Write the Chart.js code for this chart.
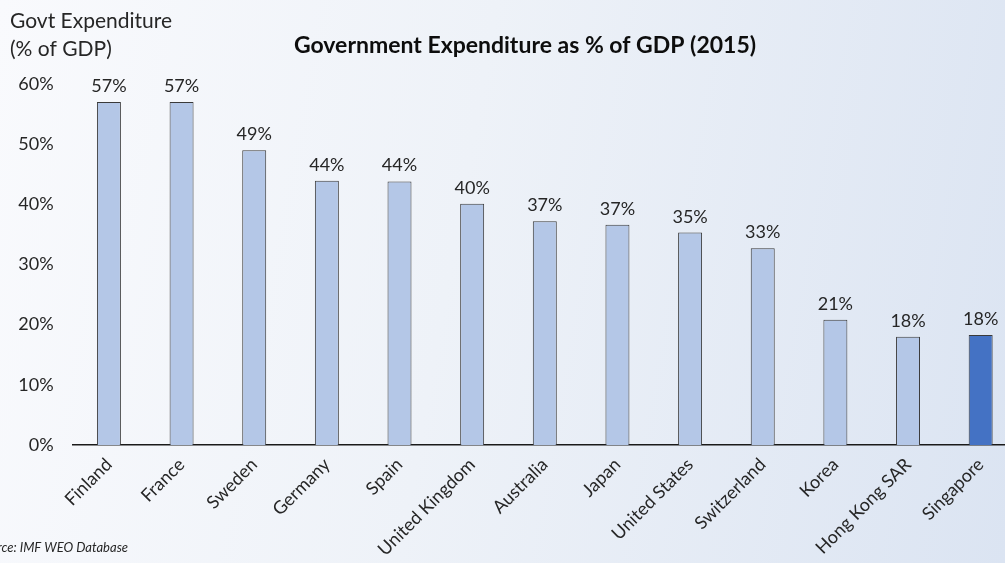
<!DOCTYPE html>
<html>
<head>
<meta charset="utf-8">
<script src="https://cdn.jsdelivr.net/npm/chart.js@4"></script>
<style>
html,body{margin:0;padding:0;width:1005px;height:563px;overflow:hidden;}
body{background:linear-gradient(100deg,#f9fafd 0%,#eef2f8 45%,#dbe4f2 100%);}
#wrap{position:absolute;left:0;top:0;width:1020px;height:563px;}
</style>
</head>
<body>
<div id="wrap"><canvas id="c" width="1020" height="563"></canvas></div>
<script>
const categories = ["Finland","France","Sweden","Germany","Spain","United Kingdom","Australia","Japan","United States","Switzerland","Korea","Hong Kong SAR","Singapore"];
const expenditure = [57.0, 57.0, 49.0, 43.9, 43.8, 40.1, 37.2, 36.6, 35.3, 32.7, 20.8, 18.0, 18.3];
const yTicks = [0,10,20,30,40,50,60];
const chartTitle = "Government Expenditure as % of GDP (2015)";
const axisTitle = ["Govt Expenditure","(% of GDP)"];
const sourceText = "Source: IMF WEO Database";

const FONT = "Lato, 'Open Sans', sans-serif";
const barColors = categories.map(c => c === "Singapore" ? "#4472c4" : "#b4c7e7");

const textPlugin = {
  id: 'texts',
  afterDraw(chart) {
    const ctx = chart.ctx;
    ctx.save();
    const meta = chart.getDatasetMeta(0);
    ctx.fillStyle = "#262626";
    ctx.font = "18px " + FONT;
    ctx.textAlign = "center";
    ctx.textBaseline = "alphabetic";
    meta.data.forEach((bar, i) => {
      ctx.fillText(Math.round(expenditure[i]) + "%", bar.x, bar.y - 10);
    });
    ctx.font = "bold 23px " + FONT;
    ctx.fillStyle = "#0d0d0d";
    ctx.textAlign = "center";
    ctx.textBaseline = "middle";
    ctx.fillText(chartTitle, 525, 46);
    ctx.font = "21px " + FONT;
    ctx.fillStyle = "#262626";
    ctx.textAlign = "left";
    ctx.fillText(axisTitle[0], 10, 21);
    ctx.fillText(axisTitle[1], 10, 49);
    ctx.font = "italic 13px " + FONT;
    ctx.fillStyle = "#262626";
    ctx.fillText(sourceText, -23, 548);
    ctx.restore();
  }
};

new Chart(document.getElementById('c'), {
  type: 'bar',
  data: {
    labels: categories,
    datasets: [{
      data: expenditure,
      backgroundColor: barColors,
      borderColor: "#3a3a3a",
      borderWidth: 1,
      barPercentage: 0.33,
      categoryPercentage: 1.0
    }]
  },
  options: {
    responsive: false,
    animation: false,
    devicePixelRatio: 1,
    layout: { padding: { top: 84, left: 0, right: 3, bottom: 0 } },
    plugins: { legend: { display: false }, title: { display: false }, tooltip: { enabled: false } },
    scales: {
      x: {
        grid: { display: false, drawTicks: false },
        border: { display: true, color: "#1a1a1a", width: 1.5 },
        ticks: { color: "#262626", font: { size: 18, family: FONT }, maxRotation: 45, minRotation: 45, padding: 9, autoSkip: false },
        afterFit(s) { s.height = 118; }
      },
      y: {
        min: 0, max: 60,
        afterBuildTicks(s) { s.ticks = yTicks.map(v => ({ value: v })); },
        grid: { display: false, drawTicks: false },
        border: { display: false },
        ticks: { color: "#262626", font: { size: 18, family: FONT }, padding: 19, callback: v => v + "%" },
        afterFit(s) { s.width = 72.6; }
      }
    }
  },
  plugins: [textPlugin]
});
</script>
</body>
</html>
